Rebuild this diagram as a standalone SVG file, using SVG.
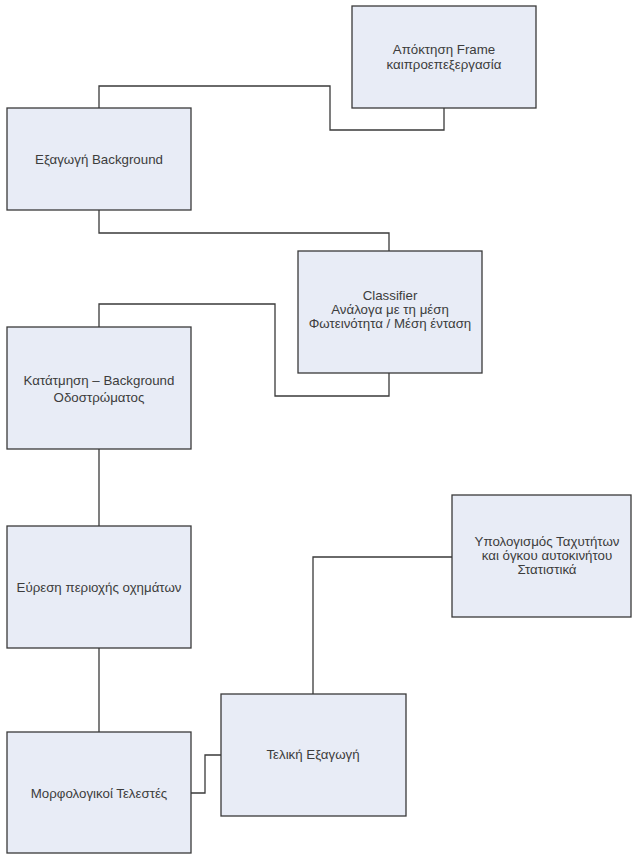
<svg xmlns="http://www.w3.org/2000/svg" width="632" height="854" viewBox="0 0 632 854">
<style>
.box{fill:#e8ecf6;stroke:#3a3a3a;stroke-width:1.3}
.con{fill:none;stroke:#3a3a3a;stroke-width:1.3}
text{font-family:"Liberation Sans","DejaVu Sans",sans-serif;font-size:13.3px;fill:#3c3c3c;text-anchor:middle}
</style>
<rect width="632" height="854" fill="#ffffff"/>
<g id="connectors">
<polyline class="con" points="444,108 444,130 330,130 330,86 99,86 99,108"/>
<polyline class="con" points="99,210 99,233 389,233 389,251"/>
<polyline class="con" points="389,373 389,396 275,396 275,304 99,304 99,327"/>
<line class="con" x1="99" y1="449" x2="99" y2="526"/>
<line class="con" x1="99" y1="648" x2="99" y2="732"/>
<polyline class="con" points="191,793 205,793 205,755 221,755"/>
<polyline class="con" points="313,694 313,557 452,557"/>
</g>
<g id="n1">
<rect class="box" x="352" y="6" width="184" height="102"/>
<text x="444" y="54">Απόκτηση Frame</text>
<text x="444" y="69">καιπροεπεξεργασία</text>
</g>
<g id="n2">
<rect class="box" x="7" y="108" width="184" height="102"/>
<text x="99" y="164">Εξαγωγή Background</text>
</g>
<g id="n3">
<rect class="box" x="298" y="251" width="184" height="122"/>
<text x="390" y="300">Classifier</text>
<text x="390" y="314">Ανάλογα με τη μέση</text>
<text x="390" y="328">Φωτεινότητα / Μέση ένταση</text>
</g>
<g id="n4">
<rect class="box" x="7" y="327" width="184" height="122"/>
<text x="99" y="385">Κατάτμηση – Background</text>
<text x="99" y="402">Οδοστρώματος</text>
</g>
<g id="n5">
<rect class="box" x="7" y="526" width="184" height="122"/>
<text x="99" y="592">Εύρεση περιοχής οχημάτων</text>
</g>
<g id="n6">
<rect class="box" x="7" y="732" width="184" height="121"/>
<text x="99" y="798">Μορφολογικοί Τελεστές</text>
</g>
<g id="n7">
<rect class="box" x="221" y="694" width="185" height="122"/>
<text x="313" y="759">Τελική Εξαγωγή</text>
</g>
<g id="n8">
<rect class="box" x="452" y="495" width="179" height="122"/>
<text x="547" y="546">Υπολογισμός Ταχυτήτων</text>
<text x="547" y="560">και όγκου αυτοκινήτου</text>
<text x="547" y="574">Στατιστικά</text>
</g>
</svg>
